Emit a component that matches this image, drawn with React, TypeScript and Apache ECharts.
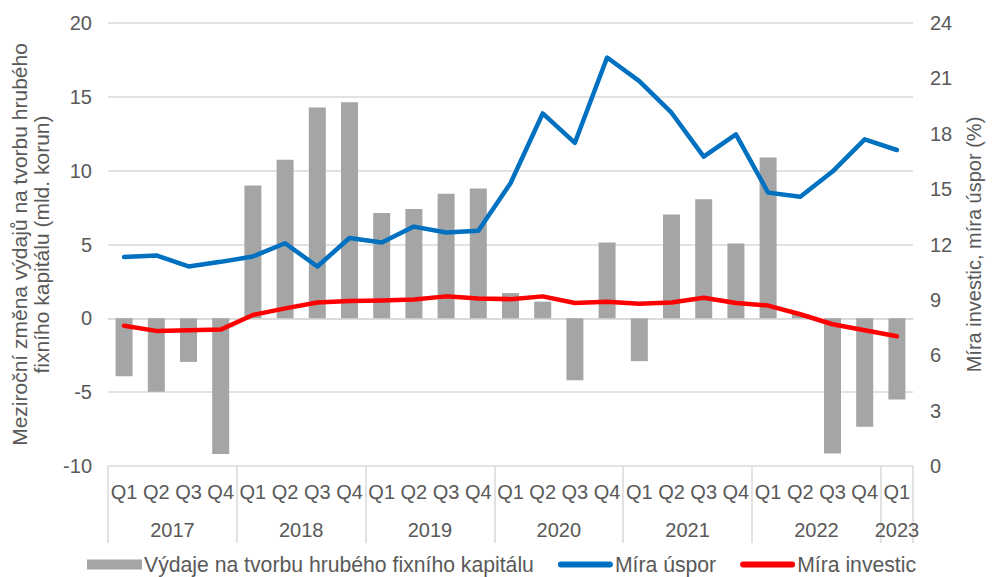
import React, { useEffect, useRef } from "react";
import * as echarts from "echarts";

const quarters = [
  "Q1","Q2","Q3","Q4","Q1","Q2","Q3","Q4","Q1","Q2","Q3","Q4",
  "Q1","Q2","Q3","Q4","Q1","Q2","Q3","Q4","Q1","Q2","Q3","Q4","Q1",
];
const years = ["2017", "2018", "2019", "2020", "2021", "2022", "2023"];
const quartersPerYear = [4, 4, 4, 4, 4, 4, 1];

const gfcf = [
  -3.92, -4.97, -2.95, -9.19,
  8.99, 10.74, 14.28, 14.64,
  7.14, 7.41, 8.43, 8.79,
  1.71, 1.13, -4.19, 5.14,
  -2.9, 7.03, 8.07, 5.07,
  10.9, 0.3, -9.16, -7.34,
  -5.49,
];
const savingRate = [
  11.32, 11.41, 10.81, 11.06,
  11.35, 12.07, 10.81, 12.35,
  12.11, 12.97, 12.65, 12.74,
  15.32, 19.1, 17.51, 22.13,
  20.85, 19.14, 16.76, 17.97,
  14.81, 14.59, 15.95, 17.7,
  17.12,
];
const investmentRate = [
  7.6, 7.32, 7.36, 7.39,
  8.18, 8.54, 8.86, 8.94,
  8.97, 9.02, 9.19, 9.08,
  9.04, 9.19, 8.83, 8.9,
  8.79, 8.86, 9.12, 8.83,
  8.69, 8.22, 7.68, 7.35,
  7.03,
];

const seriesNames = [
  "Výdaje na tvorbu hrubého fixního kapitálu",
  "Míra úspor",
  "Míra investic",
];

const FONT = "'Liberation Sans', Arial, sans-serif";
const TEXT = "#595959";
const GRID = "#D9D9D9";
const LINE_ICON = "path://M3,0L54,0A3,3,0,0,1,54,6L3,6A3,3,0,0,1,3,0Z";

export default function App() {
  const ref = useRef<HTMLDivElement>(null);

  useEffect(() => {
    if (!ref.current) return;
    const chart = echarts.init(ref.current, undefined, { renderer: "svg" });

    // half-quarter slots for the year row: boundaries at even slots, centers between
    const totalQ = quarters.length;
    const slots: string[] = new Array(totalQ * 2 + 1).fill("");
    const boundaries = new Set<number>([0]);
    let start = 0;
    years.forEach((y, i) => {
      const n = quartersPerYear[i];
      slots[start * 2 + n] = y;
      start += n;
      boundaries.add(start * 2);
    });

    chart.setOption({
      animation: false,
      textStyle: { fontFamily: FONT },
      grid: { left: 108, right: 74, top: 23, bottom: 111, containLabel: false },
      legend: {
        left: 82,
        top: 549,
        itemWidth: 55,
        itemHeight: 10,
        itemGap: 24,
        symbolKeepAspect: true,
        textStyle: { fontSize: 21.2, color: TEXT, fontFamily: FONT, padding: [0, 0, 0, -3] },
        data: [
          { name: seriesNames[0], icon: "rect" },
          { name: seriesNames[1], icon: LINE_ICON },
          { name: seriesNames[2], icon: LINE_ICON },
        ],
      },
      xAxis: [
        {
          type: "category",
          data: quarters,
          position: "bottom",
          axisLine: { show: true, lineStyle: { color: GRID, width: 1.5 } },
          axisTick: { show: false },
          axisLabel: { interval: 0, color: TEXT, fontSize: 20, margin: 16, fontFamily: FONT },
        },
        {
          type: "category",
          data: slots,
          boundaryGap: false,
          position: "bottom",
          offset: 0,
          axisLine: { show: false },
          axisTick: {
            show: true,
            length: 77,
            interval: (idx: number) => boundaries.has(idx),
            lineStyle: { color: GRID, width: 1.5 },
          },
          axisLabel: {
            interval: 0,
            color: TEXT,
            fontSize: 20,
            margin: 54,
            fontFamily: FONT,
            hideOverlap: false,
          },
          splitLine: { show: false },
        },
      ],
      yAxis: [
        {
          type: "value",
          min: -10,
          max: 20,
          interval: 5,
          name: "Meziroční změna výdajů na tvorbu hrubého\nfixního kapitálu (mld. korun)",
          nameLocation: "middle",
          nameGap: 55,
          nameTextStyle: { fontSize: 21, color: TEXT, lineHeight: 22, fontFamily: FONT },
          axisLine: { show: false },
          axisTick: { show: false },
          axisLabel: { color: TEXT, fontSize: 20, margin: 16, fontFamily: FONT },
          splitLine: { show: true, lineStyle: { color: GRID, width: 1.5 } },
        },
        {
          type: "value",
          min: 0,
          max: 24,
          interval: 3,
          position: "right",
          name: "Míra investic, míra úspor (%)",
          nameLocation: "middle",
          nameGap: 51,
          nameTextStyle: { fontSize: 20, color: TEXT, fontFamily: FONT },
          axisLine: { show: false },
          axisTick: { show: false },
          axisLabel: { color: TEXT, fontSize: 20, margin: 17, fontFamily: FONT },
          splitLine: { show: false },
        },
      ],
      series: [
        {
          name: seriesNames[0],
          type: "bar",
          data: gfcf,
          xAxisIndex: 0,
          yAxisIndex: 0,
          barWidth: 17,
          itemStyle: { color: "#A5A5A5" },
        },
        {
          name: seriesNames[1],
          type: "line",
          data: savingRate,
          xAxisIndex: 0,
          yAxisIndex: 1,
          symbol: "none",
          color: "#0070C0",
          itemStyle: { color: "#0070C0" },
          lineStyle: { color: "#0070C0", width: 4.5, cap: "round", join: "round" },
        },
        {
          name: seriesNames[2],
          type: "line",
          data: investmentRate,
          xAxisIndex: 0,
          yAxisIndex: 1,
          symbol: "none",
          color: "#FF0000",
          itemStyle: { color: "#FF0000" },
          lineStyle: { color: "#FF0000", width: 4.5, cap: "round", join: "round" },
        },
      ],
    });

    return () => chart.dispose();
  }, []);

  return <div ref={ref} style={{ width: 992, height: 577, position: "absolute", left: 0, top: 0 }} />;
}
